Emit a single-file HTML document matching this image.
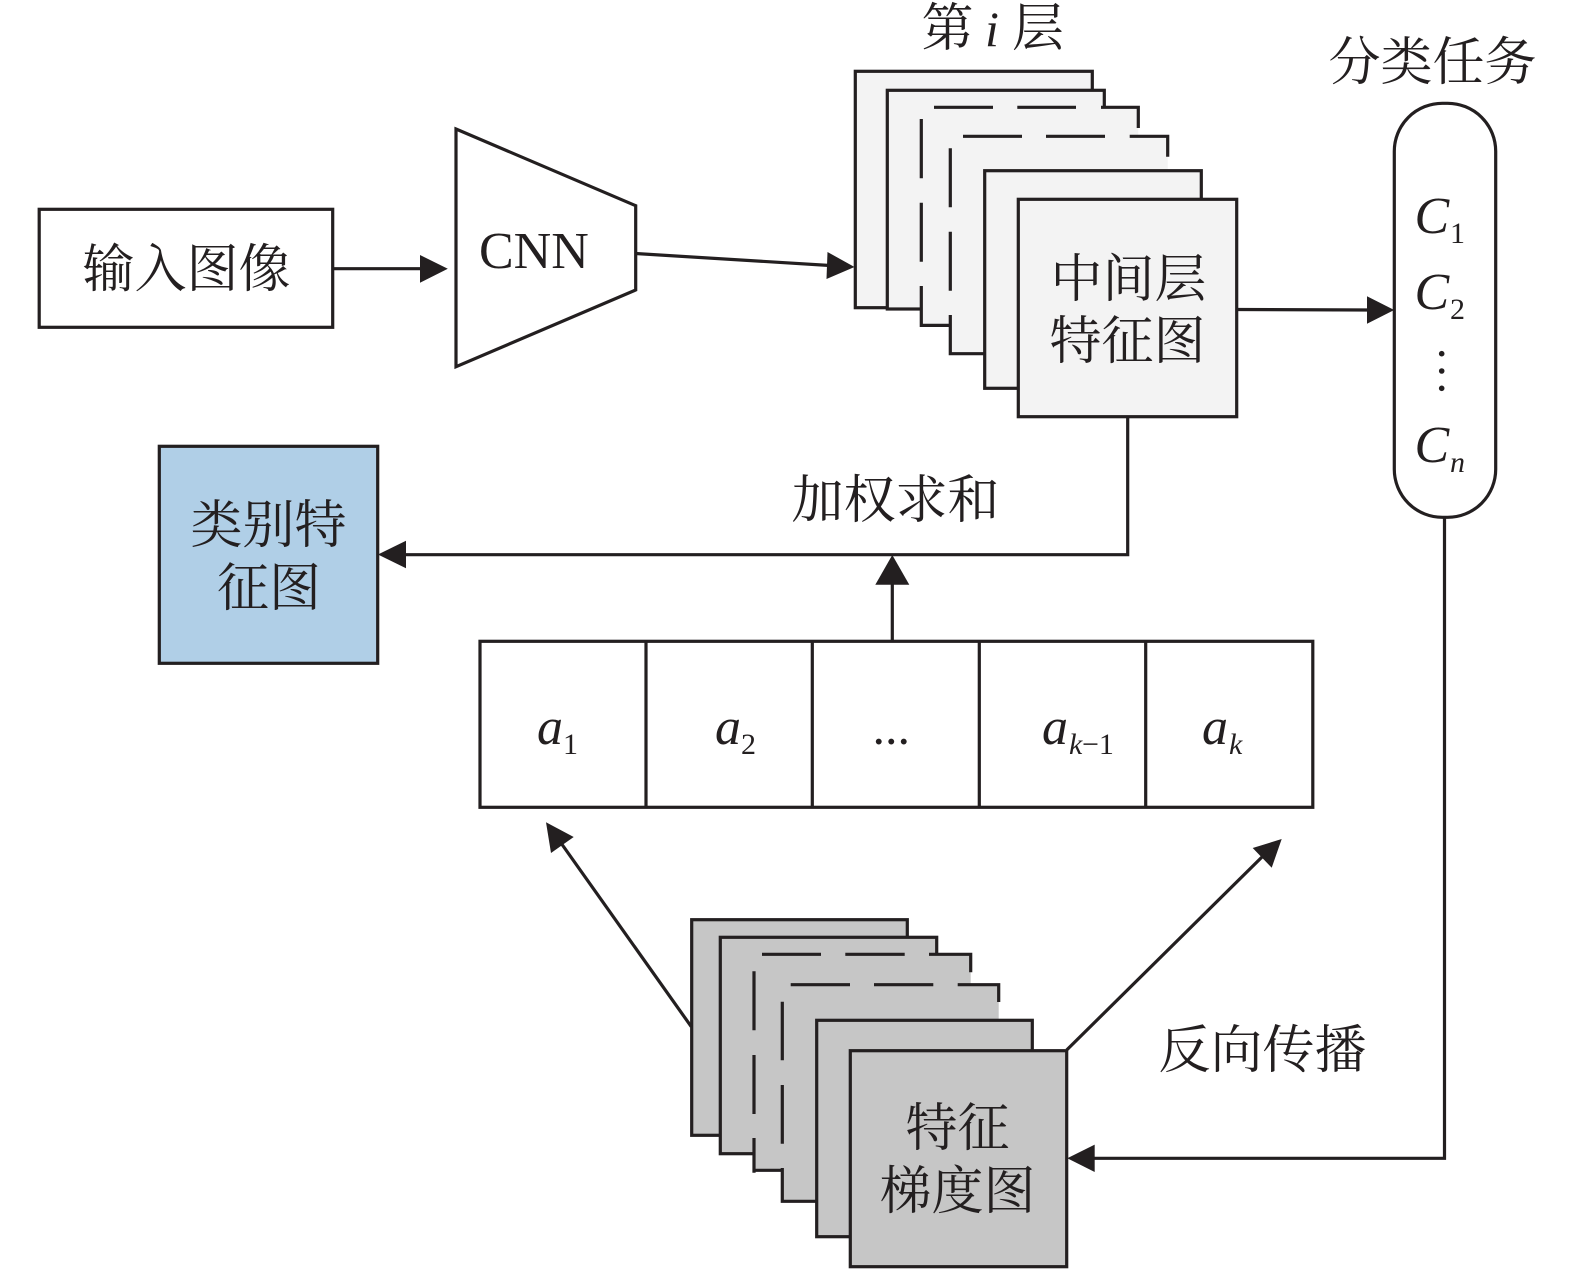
<!DOCTYPE html>
<html><head><meta charset="utf-8"><style>
html,body{margin:0;padding:0;background:#fff}
svg{display:block}
text{fill:#231f20}
.z{font-family:"Liberation Serif","Noto Serif CJK SC",serif;font-size:52px}
.i{font-family:"Liberation Serif",serif;font-style:italic;font-size:52px}
.s{font-family:"Liberation Serif",serif;font-size:30px}
.si{font-family:"Liberation Serif",serif;font-style:italic;font-size:30px}
</style></head><body>
<svg width="1575" height="1269" viewBox="0 0 1575 1269" xmlns="http://www.w3.org/2000/svg">
<g fill="none" stroke="#231f20" stroke-width="3.2">
<!-- top stack -->
<g fill="#f3f3f3">
<rect x="855.3" y="71.3" width="237" height="236.4"/>
<rect x="887.3" y="90.3" width="217" height="218.7"/>
<rect x="921.3" y="107.3" width="217" height="217.7" stroke="none"/>
</g>
<path d="M934 107.3H993M1017.3 107.3H1076M1101 107.3H1138.3V128M921.3 119V178.3M921.3 202.7V261.7M921.3 286V325.4H950.3"/>
<rect x="950.3" y="136.3" width="217.4" height="217" fill="#f3f3f3" stroke="none"/>
<path d="M963 136.3H1022M1046 136.3H1105M1129.7 136.3H1167.7V156.7M950.3 148.3V207.3M950.3 231.7V290.7M950.3 315V353.7H985"/>
<g fill="#f3f3f3">
<rect x="984.7" y="170.7" width="216.6" height="217.6"/>
<rect x="1018.3" y="199.3" width="218.4" height="217.4"/>
</g>
<!-- bottom stack -->
<g fill="#c6c6c6">
<rect x="691.7" y="919.7" width="215.6" height="215.6"/>
<rect x="720.3" y="937.3" width="216.4" height="216.4"/>
<rect x="754" y="954.3" width="216.7" height="216" stroke="none"/>
</g>
<path d="M762 954.3H821M845.3 954.3H904.7M929 954.3H970.7V972.3M754 971.3V1030.3M754 1055V1114M754 1138V1172.7M754 1170.3H782.3"/>
<rect x="782.3" y="984.7" width="216.4" height="216.6" fill="#c6c6c6" stroke="none"/>
<path d="M790.7 984.7H850M874 984.7H933.3M957.7 984.7H998.7V1002M782.3 1001.7V1060.3M782.3 1085V1143.7M782.3 1168V1201.3H817"/>
<g fill="#c6c6c6">
<rect x="816.7" y="1020.3" width="215.6" height="216.4"/>
<rect x="850.3" y="1050.7" width="216.4" height="216"/>
</g>
<!-- boxes -->
<rect x="39.2" y="209.3" width="293.5" height="118"/>
<path d="M456 129L635.7 205.7V290L456 366.7Z"/>
<rect x="1394.3" y="103.3" width="101.4" height="414" rx="48" ry="48"/>
<rect x="159.3" y="446.3" width="218.4" height="217" fill="#b0cfe7"/>
<rect x="480" y="641.3" width="832.8" height="166"/>
<path d="M646 641.3V807.3M812.3 641.3V807.3M979.3 641.3V807.3M1145.7 641.3V807.3"/>
<!-- connectors -->
<path d="M332.7 268.7H422"/>
<path d="M635.5 253.5L830 265.5"/>
<path d="M1236.7 309.5L1370 310"/>
<path d="M1127.7 416V554.7H404"/>
<path d="M892.3 641.3V583"/>
<path d="M1444.5 517.3V1158.3H1092"/>
<path d="M691.3 1026.7L561 843"/>
<path d="M1066.7 1050L1262 857"/>
</g>
<!-- arrowheads -->
<g fill="#231f20">
<polygon points="447.8,268.7 420,255 420,282.7"/>
<polygon points="854.5,267 827.5,252 826.5,279"/>
<polygon points="1394.2,310 1367,296.3 1367,323.7"/>
<polygon points="378,554.5 406,540.8 406,568.2"/>
<polygon points="892.3,555 875.3,584.7 909.3,584.7"/>
<polygon points="1067.3,1158.3 1094.7,1144.6 1094.7,1172"/>
<polygon points="546,822.3 551,853 573.7,837"/>
<polygon points="1281.7,839 1252.7,848 1271.7,867.7"/>
<circle cx="1441.7" cy="353.7" r="2.8"/>
<circle cx="1441.7" cy="371" r="2.8"/>
<circle cx="1441.7" cy="388.3" r="2.8"/>
</g>
<!-- labels -->
<text class="z" x="82.5" y="287">输入图像</text>
<text x="479" y="268" style="font-family:'Liberation Serif',serif;font-size:52px">CNN</text>
<text class="z" x="921.5" y="46">第</text>
<text class="i" x="985" y="46" style="font-size:50px">i</text>
<text class="z" x="1012" y="46">层</text>
<text class="z" x="1328.5" y="80">分类任务</text>
<text class="z" x="1050.5" y="297">中间层</text>
<text class="z" x="1049.5" y="359">特征图</text>
<text class="z" x="190.5" y="543">类别特</text>
<text class="z" x="217" y="606">征图</text>
<text class="z" x="791.5" y="518">加权求和</text>
<text class="z" x="1158.5" y="1068">反向传播</text>
<text class="z" x="905.5" y="1146">特征</text>
<text class="z" x="879.5" y="1209">梯度图</text>
<text class="i" x="1414.5" y="233">C</text><text class="s" x="1450" y="243">1</text>
<text class="i" x="1414.5" y="309">C</text><text class="s" x="1450" y="319">2</text>
<text class="i" x="1414.5" y="462">C</text><text class="si" x="1450" y="472">n</text>
<text class="i" x="537" y="744">a</text><text class="s" x="563" y="754">1</text>
<text class="i" x="715" y="744">a</text><text class="s" x="741" y="754">2</text>
<text class="i" x="872.5" y="744" style="font-style:normal;font-size:50px">...</text>
<text class="i" x="1042" y="744">a</text><text class="si" x="1069" y="754">k</text><text class="s" x="1082" y="754">−1</text>
<text class="i" x="1202" y="744">a</text><text class="si" x="1229" y="754">k</text>
</svg>
</body></html>
